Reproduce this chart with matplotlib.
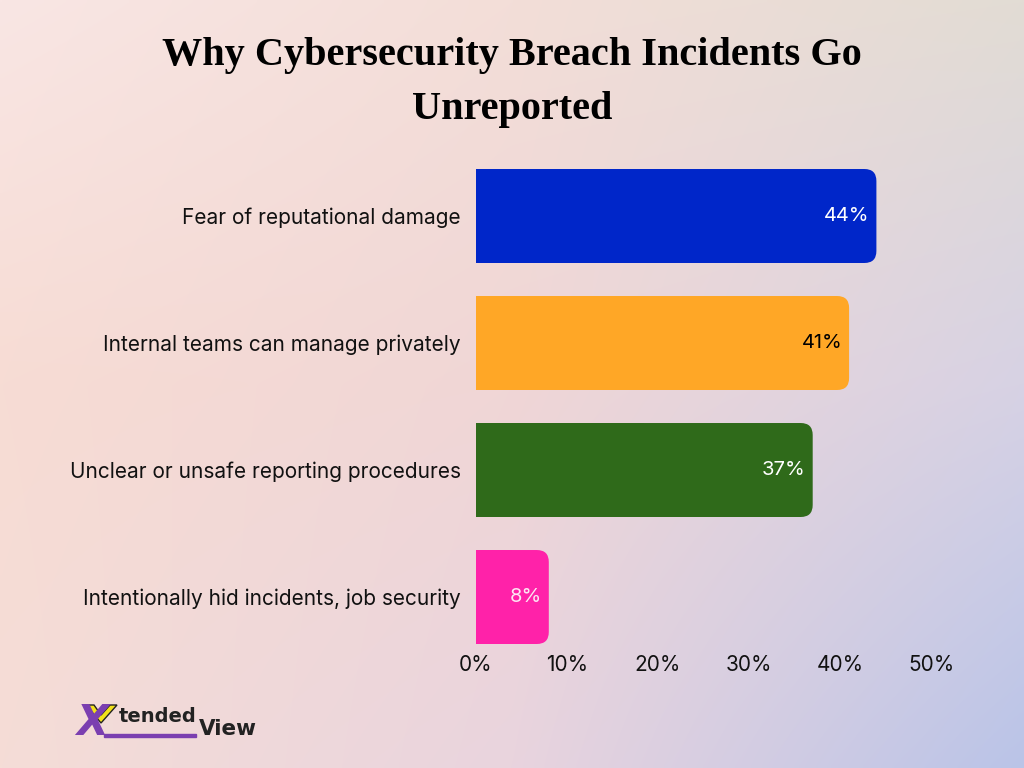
import numpy as np
import matplotlib.pyplot as plt
from matplotlib.patches import FancyBboxPatch, Rectangle, Polygon

categories = ["Fear of reputational damage",
              "Internal teams can manage privately",
              "Unclear or unsafe reporting procedures",
              "Intentionally hid incidents, job security"]
values = [44, 41, 37, 8]
colors = ["#0026c9", "#ffa726", "#2f6a1a", "#ff22a9"]
label_colors = ["white", "black", "white", "#fde6f3"]
ticks = [0, 10, 20, 30, 40, 50]

fig = plt.figure(figsize=(10.24, 7.68), dpi=100)

# background gradient from a 3x3 grid of colours
grid = np.array([
    [[249, 230, 228], [243, 222, 216], [226, 220, 212]],
    [[247, 220, 212], [240, 214, 214], [215, 210, 228]],
    [[245, 221, 215], [233, 212, 222], [186, 196, 232]],
]) / 255.0
W, H = 256, 192
gx = np.linspace(0, 2, W)
gy = np.linspace(0, 2, H)
rows = np.stack([np.stack([np.interp(gx, [0, 1, 2], grid[r, :, ch]) for ch in range(3)], -1)
                 for r in range(3)])  # 3 x W x 3
img = np.stack([np.stack([np.interp(gy, [0, 1, 2], rows[:, c, ch]) for ch in range(3)], -1)
                for c in range(W)], 1)  # H x W x 3
bg = fig.add_axes([0, 0, 1, 1], zorder=-10)
bg.imshow(img, aspect="auto", extent=[0, 1, 0, 1], interpolation="bilinear")
bg.axis("off")

ax = fig.add_axes([476 / 1024, 1 - 644 / 768, 455 / 1024, (644 - 152.5) / 768])
ax.patch.set_alpha(0)
y = np.arange(len(categories))
bars = ax.barh(y, values, height=0.74, color=colors)
ax.set_xlim(0, 50)
ax.set_ylim(3.37, -0.5)

# rounded right ends
xpp = 50 / 455
ypp = 1 / 127
r = 12
for b, c in zip(bars, colors):
    x0, y0, w, h = b.get_x(), b.get_y(), b.get_width(), b.get_height()
    b.set_visible(False)
    ax.add_patch(FancyBboxPatch((x0, y0), w, h,
                                boxstyle=f"round,pad=0,rounding_size={r * xpp}",
                                mutation_aspect=ypp / xpp, fc=c, ec="none"))
    ax.add_patch(Rectangle((x0, y0), w / 2, h, fc=c, ec="none"))

for yi, val, lc in zip(y, values, label_colors):
    ax.annotate(f"{val}%", (val, yi), xytext=(-5, 0), textcoords="offset points",
                ha="right", va="center", color=lc, fontsize=14.5, family="Inter")

ax.set_yticks(y)
ax.set_yticklabels(categories, fontsize=15, family="Inter", color="#111111")
ax.set_xticks(ticks)
ax.set_xticklabels([f"{t}%" for t in ticks], fontsize=15, family="Inter", color="#111111")
ax.tick_params(length=0, axis="y", pad=11)
ax.tick_params(length=0, axis="x", pad=8)
for s in ax.spines.values():
    s.set_visible(False)

fig.text(0.5, 1 - 55 / 768, "Why Cybersecurity Breach Incidents Go", ha="center", va="center",
         fontsize=29, fontweight="bold", family="Liberation Serif", color="black")
fig.text(0.5, 1 - 110 / 768, "Unreported", ha="center", va="center",
         fontsize=29, fontweight="bold", family="Liberation Serif", color="black")

# logo
fig.text(76 / 1024, 1 - 723 / 768, "X", fontsize=30, fontweight="bold", style="italic",
         family="DejaVu Sans", color="#7b3fb0", va="center", ha="left")
fig.add_artist(Polygon([(86 / 1024, 1 - 705 / 768), (94 / 1024, 1 - 705 / 768),
                        (101 / 1024, 1 - 715 / 768), (110 / 1024, 1 - 705 / 768),
                        (117 / 1024, 1 - 705 / 768), (101 / 1024, 1 - 723 / 768)],
                       closed=True, transform=fig.transFigure, fc="#f2e21b", ec="#222222", lw=1))
fig.text(119 / 1024, 1 - 717 / 768, "tended", fontsize=14, fontweight="bold",
         family="DejaVu Sans", color="#222222", va="center", ha="left")
fig.text(199 / 1024, 1 - 729 / 768, "View", fontsize=15.5, fontweight="bold",
         family="DejaVu Sans", color="#222222", va="center", ha="left")
fig.add_artist(Rectangle((104 / 1024, 1 - 737 / 768), 92 / 1024, 3 / 768,
                         transform=fig.transFigure, color="#7b3fb0"))

fig.savefig("out.png", dpi=100)
